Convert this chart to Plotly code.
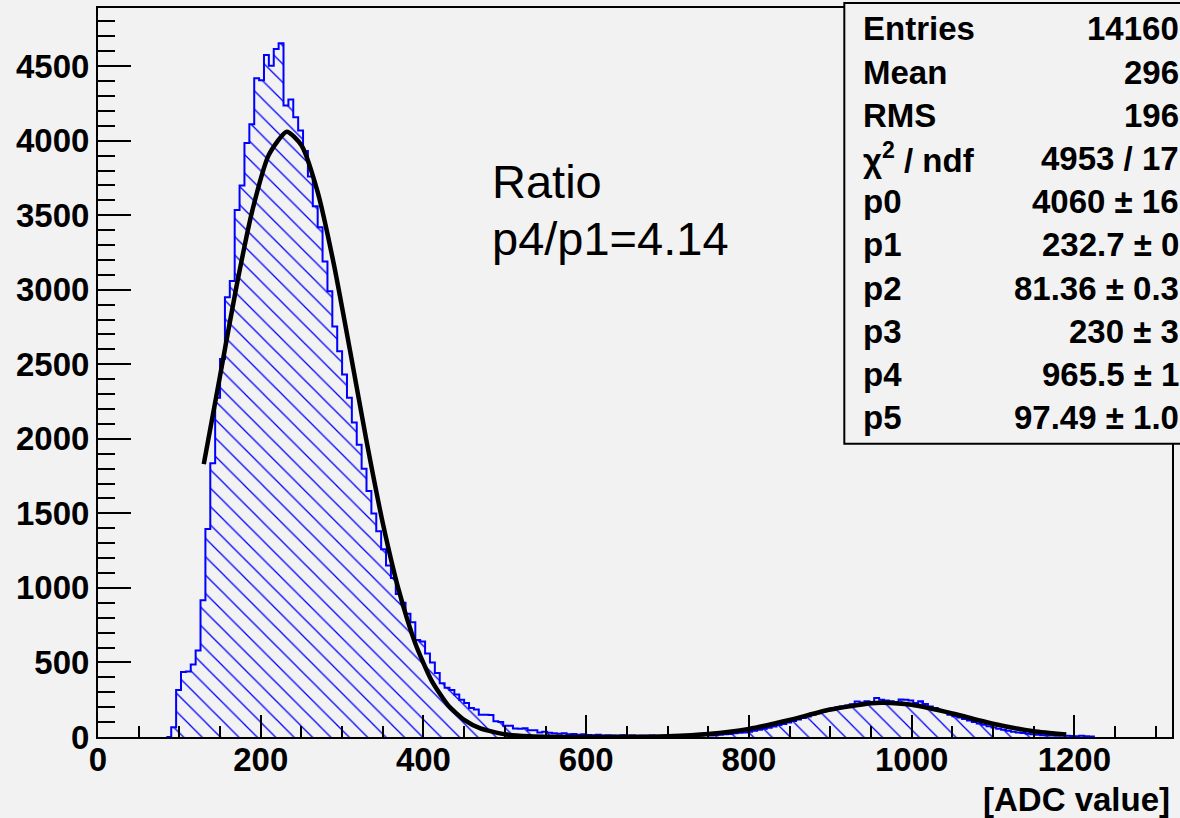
import plotly.graph_objects as go

# ---------------- data ----------------
bin_width = 6
first_edge = 84
counts = [
    0, 65, 316, 436, 440, 486, 580, 917, 1395, 1836,          # 84 .. 138
    2275, 2535, 2950, 3059, 3535, 3700, 3985, 4110, 4418, 4405,  # 144 .. 198
    4575, 4503, 4615, 4654, 4236, 4276, 4158, 4069, 3930, 3760,  # 204 .. 258
    3560, 3420, 3190, 2990, 2754, 2587, 2431, 2275, 2110, 1960,  # 264 .. 318
    1800, 1650, 1500, 1380, 1260, 1150, 1066, 960, 900, 826,     # 324 .. 378
    770, 650, 640, 560, 500, 430, 360, 330, 315, 285,            # 384 .. 438
    250, 228, 195, 185, 150, 150, 148, 105, 100, 75,             # 444 .. 498
    75, 57, 55, 58, 46, 46, 30, 35, 28, 25,                      # 504 .. 558
    22, 25, 18, 20, 15, 18, 14, 12, 15, 10,                      # 564 .. 618
    12, 10, 8, 12, 8, 10, 7, 9, 8, 10,                           # 624 .. 678
    6, 8, 7, 9, 8, 10, 12, 10, 14, 12,                           # 684 .. 738
    15, 10, 12, 15, 18, 20, 25, 28, 30, 35,                      # 744 .. 798
    42, 48, 55, 62, 70, 80, 88, 98, 108, 118,                    # 804 .. 858
    128, 138, 150, 160, 170, 178, 190, 198, 205, 212,            # 864 .. 918
    220, 238, 232, 240, 230, 262, 250, 245, 240, 235,            # 924 .. 978
    252, 250, 245, 228, 240, 222, 205, 195, 178, 168,            # 984 .. 1038
    150, 140, 130, 120, 110, 100, 90, 82, 72, 64,                # 1044 .. 1098
    55, 48, 42, 36, 30, 26, 22, 18, 15, 12,                      # 1104 .. 1158
    10, 10, 8, 10, 8, 6, 5, 8, 5, 3,                             # 1164 .. 1218
]

fit_x = [130, 150, 170, 190, 210, 232, 250, 270, 290, 310, 330, 350, 370, 390,
         410, 430, 450, 470, 500, 530, 560, 600, 650, 700, 750, 800, 850, 900,
         950, 965, 1000, 1050, 1100, 1150, 1190]
fit_y = [1830, 2422, 3017, 3538, 3905, 4060, 3969, 3655, 3168, 2585, 1986, 1436,
         978, 627, 378, 215, 115, 58, 18, 5, 1, 0.2, 1.2, 5.6, 20, 54, 114, 184,
         227, 230, 216, 158, 89, 38, 16]

x_ticks = [0, 200, 400, 600, 800, 1000, 1200]
y_ticks = [0, 500, 1000, 1500, 2000, 2500, 3000, 3500, 4000, 4500]
x_range = [0, 1320]
y_range = [0, 4890]

stat_labels = ["Entries", "Mean", "RMS", "χ<sup>2</sup> / ndf", "p0", "p1",
               "p2", "p3", "p4", "p5"]
stat_values = ["14160", "296", "196", "4953 / 17", "4060 ± 16", "232.7 ± 0",
               "81.36 ± 0.3", "230 ± 3", "965.5 ± 1", "97.49 ± 1.0"]
ratio_lines = ["Ratio", "p4/p1=4.14"]
x_title = "[ADC value]"

# ---------------- layout geometry (pixels) ----------------
W, H = 1180, 818
L, R, T, B = 98, 7, 6, 81
PW, PH = W - L - R, H - T - B


def px_x(px):
    return (px - L) / PW


def px_y(py):
    return (H - B - py) / PH


# step outline of histogram
xs = [first_edge]
ys = [0]
for i, c in enumerate(counts):
    xs.append(first_edge + i * bin_width)
    ys.append(c)
xs.append(first_edge + len(counts) * bin_width)
ys.append(0)

BG = "#f2f2f2"
FONT = "Liberation Sans"

fig = go.Figure()
fig.add_trace(go.Scatter(
    x=xs, y=ys, mode="lines", line=dict(shape="hv", color="#0000ff", width=2),
    fill="tozeroy", fillcolor="rgba(0,0,0,0)",
    fillpattern=dict(shape="\\", fgcolor="#0000ff", bgcolor="rgba(0,0,0,0)",
                     size=13, solidity=0.1, fgopacity=1),
    hoverinfo="skip", showlegend=False))
fig.add_trace(go.Scatter(
    x=fit_x, y=fit_y, mode="lines",
    line=dict(color="black", width=4.5, shape="spline", smoothing=0.6),
    hoverinfo="skip", showlegend=False))

tick_font = dict(family=FONT, size=33, color="black", weight="bold")
fig.update_xaxes(
    range=x_range, tickvals=x_ticks, ticktext=[str(v) for v in x_ticks],
    ticks="inside", ticklen=22, tickwidth=2, tickcolor="black",
    ticklabelstandoff=-8,
    showline=True, linecolor="black", linewidth=2, mirror=True,
    showgrid=False, zeroline=False, tickfont=tick_font,
    minor=dict(dtick=50, tick0=0, ticks="inside", ticklen=11, tickwidth=2,
               tickcolor="black", showgrid=False))
fig.update_yaxes(
    range=y_range, tickvals=y_ticks, ticktext=[str(v) for v in y_ticks],
    ticks="inside", ticklen=33, tickwidth=2, tickcolor="black",
    showline=True, linecolor="black", linewidth=2, mirror=True,
    showgrid=False, zeroline=False, tickfont=tick_font,
    minor=dict(dtick=100, tick0=0, ticks="inside", ticklen=17, tickwidth=2,
               tickcolor="black", showgrid=False))

shapes = [dict(type="rect", xref="paper", yref="paper",
               x0=px_x(845), x1=px_x(1200), y0=px_y(443), y1=px_y(1),
               fillcolor=BG, line=dict(color="black", width=2), layer="above")]

annotations = []
row0, dy = 27, 43.3
for i, (lab, val) in enumerate(zip(stat_labels, stat_values)):
    yc = px_y(row0 + i * dy)
    annotations.append(dict(xref="paper", yref="paper", x=px_x(862), y=yc,
                            xanchor="left", yanchor="middle", text=lab,
                            showarrow=False,
                            font=dict(family=FONT, size=33, color="black",
                                      weight="bold")))
    annotations.append(dict(xref="paper", yref="paper", x=px_x(1182), y=yc,
                            xanchor="right", yanchor="middle", text=val,
                            showarrow=False,
                            font=dict(family=FONT, size=33, color="black",
                                      weight="bold")))

for j, line in enumerate(ratio_lines):
    annotations.append(dict(xref="paper", yref="paper", x=px_x(490),
                            y=px_y(180 + j * 57), xanchor="left",
                            yanchor="middle", text=line, showarrow=False,
                            font=dict(family=FONT, size=47, color="black")))

annotations.append(dict(xref="paper", yref="paper", x=1.0, y=px_y(800),
                        xanchor="right", yanchor="middle", text=x_title,
                        showarrow=False,
                        font=dict(family=FONT, size=33, color="black",
                                  weight="bold")))

fig.update_layout(
    width=W, height=H, margin=dict(l=L, r=R, t=T, b=B, pad=0),
    paper_bgcolor=BG, plot_bgcolor=BG, showlegend=False,
    shapes=shapes, annotations=annotations)

fig.write_html("out.html")
